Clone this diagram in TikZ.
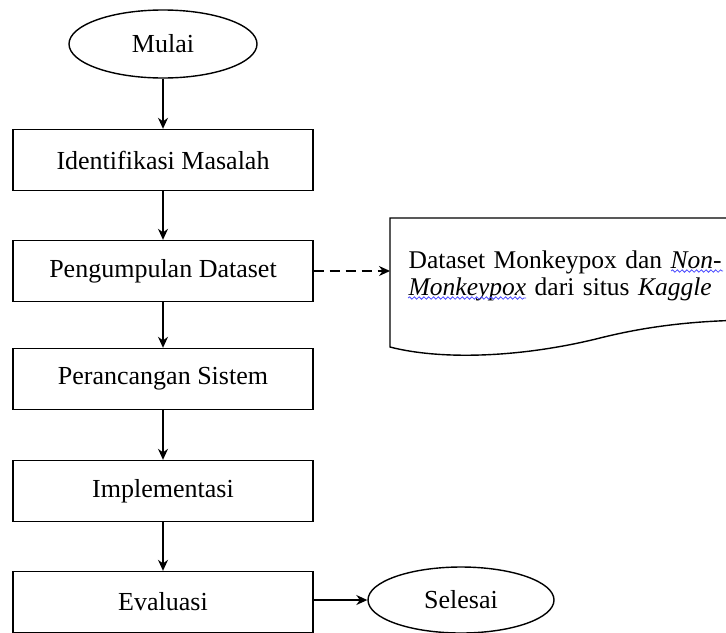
\documentclass[tikz,border=0pt]{standalone}
\usepackage{fontspec}
\setmainfont{Liberation Serif}
\usepackage{tikz}
\usetikzlibrary{shapes.geometric, decorations.pathmorphing, arrows.meta}
\tikzstyle{Step}=[rectangle, minimum width=150pt, minimum height=30.5pt, draw=black, line width=0.7pt, font=\fontsize{13}{15}\selectfont]
\tikzstyle{Terminal}=[ellipse, minimum width=94pt, minimum height=34pt, inner sep=0pt, draw=black, line width=0.7pt, font=\fontsize{13}{15}\selectfont]
\tikzstyle{Spell}=[draw=blue!70, line width=0.4pt, decorate, decoration={snake, amplitude=0.6pt, segment length=2.4pt}]

\begin{document}
\begin{tikzpicture}[x=0.5pt, y=-0.5pt, >={Stealth[length=5.5pt, width=5pt]}, line width=0.7pt]
    \useasboundingbox (0,0) rectangle (726,632);
    \clip (0,0) rectangle (726,632);
    \path
    (163,44) node[Terminal] (mulai) {Mulai}
    (163,160) node[Step] (identifikasi) {Identifikasi Masalah}
    (163,271) node[Step] (pengumpulan) {Pengumpulan Dataset}
    (163,379) node[Step] (perancangan) {Perancangan Sistem}
    (163,491) node[Step] (implementasi) {Implementasi}
    (163,602) node[Step] (evaluasi) {Evaluasi}
    (461,600) node[Terminal, minimum width=93pt, minimum height=33pt] (selesai) {Selesai};
    \path (390,276) node[anchor=west, text width=180pt, align=left, inner sep=0pt, xshift=9pt, font=\fontsize{12.75}{13.5}\selectfont] (dataset)
    {Dataset Monkeypox dan \textit{Non-}\\\textit{Monkeypox} dari situs \textit{Kaggle}};

    % dokumen
    \draw (760,218) -- (390,218) -- (390,347)
    .. controls (440,360) and (520,358) .. (600,338)
    .. controls (650,325.5) and (700,320) .. (760,320);
    \path[Spell] (671,271) -- (723,271);
    \path[Spell] (408,298) -- (526,298);

    \draw[->] (mulai) -- (identifikasi);
    \draw[->] (identifikasi) -- (pengumpulan);
    \draw[->] (pengumpulan) -- (perancangan);
    \draw[->] (perancangan) -- (implementasi);
    \draw[->] (implementasi) -- (evaluasi);
    \draw[->] (evaluasi.east |- selesai) -- (selesai);
    \draw[->, dash pattern=on 5pt off 3pt] (pengumpulan.east) -- (390,271);
\end{tikzpicture}
\end{document}
